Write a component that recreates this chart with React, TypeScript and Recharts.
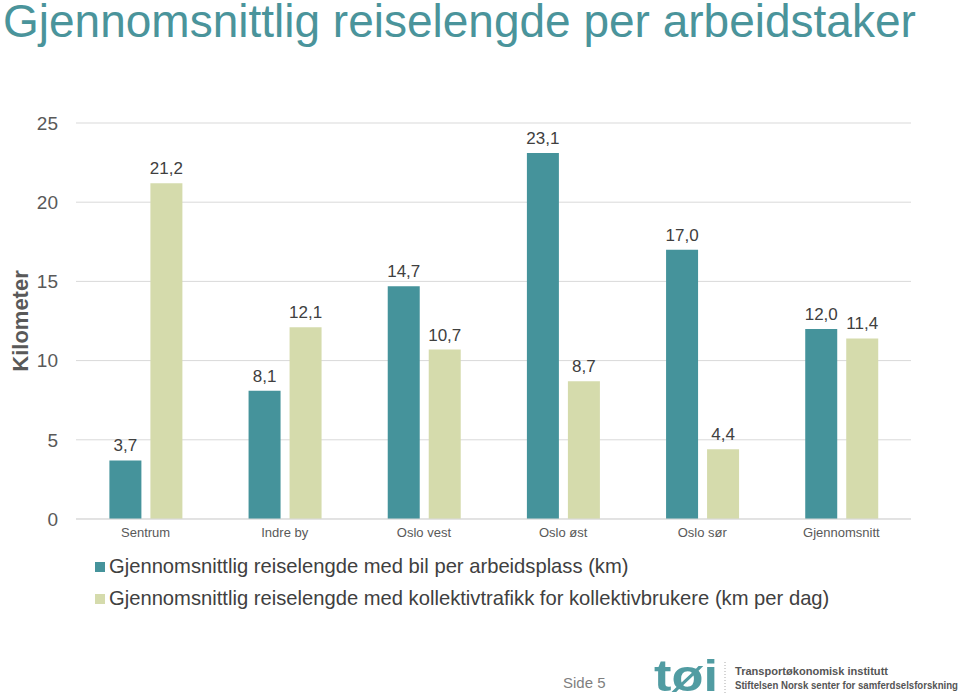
import React from 'react';
import { BarChart, Bar, XAxis, YAxis, CartesianGrid, LabelList } from 'recharts';

const categories = ['Sentrum', 'Indre by', 'Oslo vest', 'Oslo øst', 'Oslo sør', 'Gjennomsnitt'];
const bilValues = [3.7, 8.1, 14.7, 23.1, 17.0, 12.0];
const kollektivValues = [21.2, 12.1, 10.7, 8.7, 4.4, 11.4];
const yTicks = [0, 5, 10, 15, 20, 25];

const seriesNames = [
  'Gjennomsnittlig reiselengde med bil per arbeidsplass (km)',
  'Gjennomsnittlig reiselengde med kollektivtrafikk for kollektivbrukere (km per dag)',
];

const TEAL = '#45939b';
const GREEN = '#d5dbac';
const FONT = '"Liberation Sans", Arial, sans-serif';

const data = categories.map((name, i) => ({
  name,
  bil: bilValues[i],
  kollektiv: kollektivValues[i],
}));

const fmt = (v: any) => Number(v).toFixed(1).replace('.', ',');

const App: React.FC = () => {
  return (
    <div
      style={{
        position: 'absolute',
        left: 0,
        top: 0,
        width: 960,
        height: 694,
        background: '#fff',
        fontFamily: FONT,
        overflow: 'hidden',
      }}
    >
      <div
        style={{
          position: 'absolute',
          left: 3,
          top: 1,
          fontSize: 46,
          lineHeight: '40px',
          color: '#4a949b',
          whiteSpace: 'nowrap',
        }}
      >
        Gjennomsnittlig reiselengde per arbeidstaker
      </div>

      <div style={{ position: 'absolute', left: 0, top: 0 }}>
        <BarChart
          width={960}
          height={694}
          data={data}
          margin={{ top: 123, right: 49, left: 0, bottom: 145 }}
          barCategoryGap="24%"
          barGap={9}
        >
          <CartesianGrid vertical={false} stroke="#d9d9d9" />
          <XAxis
            dataKey="name"
            height={30}
            axisLine={{ stroke: '#d9d9d9' }}
            tickLine={false}
            tickSize={0}
            tickMargin={9}
            tick={{ fontSize: 13, fill: '#595959', fontFamily: FONT }}
          />
          <YAxis
            width={76}
            domain={[0, 25]}
            ticks={yTicks}
            axisLine={false}
            tickLine={false}
            tickSize={0}
            tickMargin={18}
            tick={{ fontSize: 19, fill: '#595959', fontFamily: FONT }}
            label={{
              content: ({ viewBox }: any) => {
                const cy = viewBox.y + viewBox.height / 2;
                return (
                  <text
                    x={20}
                    y={cy}
                    transform={`rotate(-90 20 ${cy})`}
                    textAnchor="middle"
                    dominantBaseline="central"
                    fontSize={22}
                    fontWeight="bold"
                    fill="#595959"
                    fontFamily={FONT}
                  >
                    Kilometer
                  </text>
                );
              },
            }}
          />
          <Bar dataKey="bil" name={seriesNames[0]} fill={TEAL} isAnimationActive={false}>
            <LabelList
              dataKey="bil"
              position="top"
              offset={9}
              formatter={fmt}
              style={{ fontSize: 17, fill: '#404040', fontFamily: FONT }}
            />
          </Bar>
          <Bar dataKey="kollektiv" name={seriesNames[1]} fill={GREEN} isAnimationActive={false}>
            <LabelList
              dataKey="kollektiv"
              position="top"
              offset={9}
              formatter={fmt}
              style={{ fontSize: 17, fill: '#404040', fontFamily: FONT }}
            />
          </Bar>
        </BarChart>
      </div>

      {/* legend */}
      {seriesNames.map((s, i) => (
        <div
          key={s}
          style={{
            position: 'absolute',
            left: 95,
            top: 555 + i * 32,
            display: 'flex',
            alignItems: 'center',
            fontSize: 20.2,
            color: '#404040',
            whiteSpace: 'nowrap',
          }}
        >
          <span
            style={{
              display: 'inline-block',
              width: 10,
              height: 10,
              background: i === 0 ? TEAL : GREEN,
              marginRight: 4,
            }}
          />
          {s}
        </div>
      ))}

      {/* footer */}
      <div style={{ position: 'absolute', left: 563, top: 674, fontSize: 15, color: '#7f7f7f' }}>
        Side 5
      </div>
      <svg
        width={320}
        height={44}
        style={{ position: 'absolute', left: 640, top: 650 }}
        fontFamily={FONT}
      >
        <text
          x={14}
          y={41}
          fontSize={44}
          fontWeight="bold"
          fill="#519ca2"
          textLength={64}
          lengthAdjust="spacingAndGlyphs"
        >
          tøi
        </text>
        <line x1={85} y1={12} x2={85} y2={43} stroke="#aaa" strokeDasharray="1 2" />
        <text x={95} y={25} fontSize={10.5} fontWeight="bold" fill="#555" textLength={153} lengthAdjust="spacingAndGlyphs">
          Transportøkonomisk institutt
        </text>
        <text x={95} y={39} fontSize={10.5} fontWeight="bold" fill="#555" textLength={223} lengthAdjust="spacingAndGlyphs">
          Stiftelsen Norsk senter for samferdselsforskning
        </text>
      </svg>
    </div>
  );
};

export default App;
